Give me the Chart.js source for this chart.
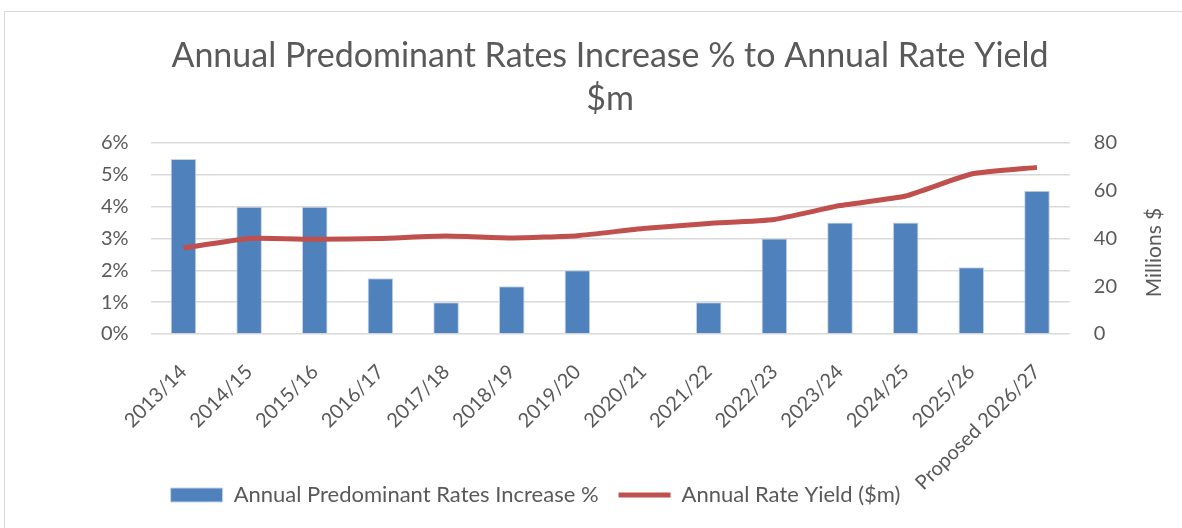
<!DOCTYPE html>
<html>
<head>
<meta charset="utf-8">
<script src="https://cdn.jsdelivr.net/npm/chart.js"></script>
<style>
  html, body { margin: 0; padding: 0; background: #fff; }
  #wrap { position: absolute; left: 4px; top: 11px; width: 1190px; height: 530px; border: 1px solid #d9d9d9; box-sizing: border-box; }
  #box { position: absolute; left: 0; top: 0; width: 1182px; height: 528px; }
</style>
</head>
<body>
<div id="wrap"></div>
<div id="box"><canvas id="rateChart"></canvas></div>
<script>
// Financial years
const years = ['2013/14', '2014/15', '2015/16', '2016/17', '2017/18', '2018/19', '2019/20',
  '2020/21', '2021/22', '2022/23', '2023/24', '2024/25', '2025/26', 'Proposed 2026/27'];

// Rates increase %, no increase in 2020/21
const rateIncrease = [5.5, 4, 4, 1.75, 1, 1.5, 2, null, 1, 3, 3.5, 3.5, 2.1, 4.5];

// Annual rate yield, millions $
const rateYield = [36, 40, 39.7, 40, 41, 40.2, 41.2, 44.2, 46.3, 48, 53.8, 57.8, 67, 69.8];

const grey = '#595959';
Chart.defaults.font.family = "Lato, sans-serif";
Chart.defaults.color = grey;

// right axis title reads bottom-to-top like the original
const rightTitle = {
    id: 'rightTitle',
    afterDraw(chart) {
        const a = chart.chartArea;
        const c = chart.ctx;
        c.save();
        c.translate(a.right + 84, (a.top + a.bottom) / 2 + 14);
        c.rotate(-Math.PI / 2);
        c.font = "21px Lato, sans-serif";
        c.fillStyle = grey;
        c.textAlign = 'center';
        c.textBaseline = 'middle';
        c.fillText('Millions $', 0, 0);
        c.restore();
    }
};

window.onload = function() {
    const ctx = document.getElementById('rateChart').getContext('2d');
    new Chart(ctx, {
        type: 'bar',
        data: {
            labels: years,
            datasets: [
                {
                    label: 'Annual Predominant Rates Increase %',
                    data: rateIncrease,
                    backgroundColor: '#4f81bd',
                    borderColor: '#c6d4e8',
                    borderWidth: 1,
                    categoryPercentage: 1,
                    barPercentage: 0.39,
                    yAxisID: 'y',
                    pointStyle: 'rect',
                    order: 2
                },
                {
                    type: 'line',
                    label: 'Annual Rate Yield ($m)',
                    data: rateYield,
                    borderColor: '#c0504d',
                    backgroundColor: '#c0504d',
                    borderWidth: 5,
                    pointRadius: 0,
                    pointStyle: 'line',
                    tension: 0.15,
                    yAxisID: 'y1',
                    order: 1
                }
            ]
        },
        options: {
            responsive: true,
            maintainAspectRatio: false,
            animation: false,
            layout: { padding: { left: 79, right: 41, top: 0, bottom: 12 } },
            plugins: {
                title: {
                    display: true,
                    text: ['Annual Predominant Rates Increase % to Annual Rate Yield', '$m'],
                    font: { size: 34, weight: 'normal', lineHeight: 1.265 },
                    color: grey,
                    padding: { top: 35, bottom: 22 }
                },
                legend: {
                    position: 'bottom',
                    fullSize: false,
                    align: 'start',
                    labels: {
                        usePointStyle: true,
                        pointStyleWidth: 52,
                        boxHeight: 14,
                        font: { size: 22 },
                        color: grey,
                        padding: 20,
                        sort: (a, b) => a.datasetIndex - b.datasetIndex
                    }
                },
                tooltip: { enabled: false }
            },
            scales: {
                x: {
                    grid: { display: false },
                    border: { display: false },
                    ticks: { maxRotation: 45, minRotation: 45, font: { size: 20 }, color: grey, padding: 18 },
                    // let the long last label run down beside the legend, as in the original
                    afterFit: scale => {
                        scale.height = 130;
                        scale._computeLabelArea = () => undefined;
                    }
                },
                y: {
                    position: 'left',
                    min: 0,
                    max: 6,
                    ticks: { stepSize: 1, font: { size: 20 }, color: grey, padding: 22,
                        callback: v => v + '%' },
                    grid: { color: '#d9d9d9', lineWidth: 1.5, drawTicks: false },
                    border: { display: false }
                },
                y1: {
                    position: 'right',
                    min: 0,
                    max: 80,
                    ticks: { stepSize: 20, font: { size: 20 }, color: grey, padding: 24 },
                    grid: { display: false, drawTicks: false },
                    border: { display: false }
                }
            }
        },
        plugins: [rightTitle]
    });
};
</script>
</body>
</html>
